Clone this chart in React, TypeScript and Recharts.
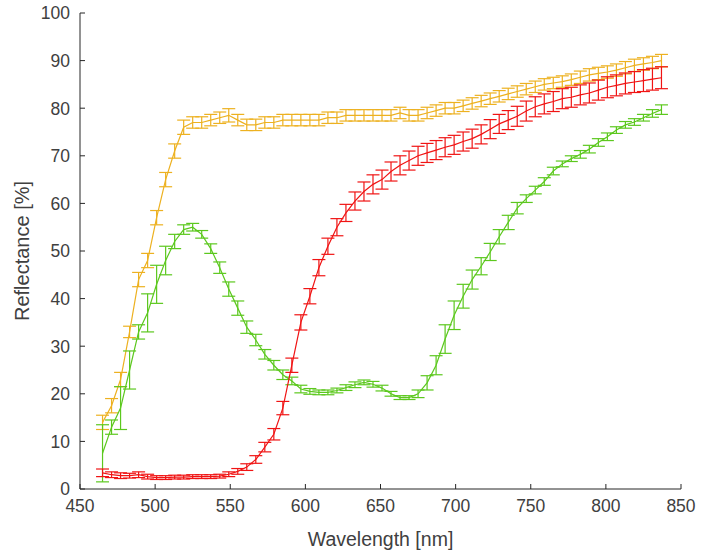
import React from 'react';
import { LineChart, Line, XAxis, YAxis, ErrorBar } from 'recharts';

// wavelength samples [nm]
const wavelengths = [
  465, 471, 477, 483, 489, 495, 501, 507, 513, 519,
  525, 531, 537, 543, 549, 555, 561, 567, 573, 579,
  585, 591, 597, 603, 609, 615, 621, 627, 633, 639,
  645, 651, 657, 663, 669, 675, 681, 687, 693, 699,
  705, 711, 717, 723, 729, 735, 741, 747, 753, 759,
  765, 771, 777, 783, 789, 795, 801, 807, 813, 819,
  825, 831, 837,
];

// reflectance [%]
const orangeVals = [
  14, 17.5, 23, 33, 44, 48, 57, 65, 71, 76,
  77, 77, 77.5, 78, 78.5, 77.5, 76.5, 76.5, 77, 77,
  77.5, 77.5, 77.5, 77.5, 77.5, 78, 78, 78.5, 78.5, 78.5,
  78.5, 78.5, 78.5, 79, 78.5, 78.5, 79, 79.5, 80, 80,
  80.5, 81, 81.5, 82, 82.5, 83, 83.5, 84, 84.5, 85,
  85.3, 85.6, 86, 86.5, 87, 87.3, 87.6, 88, 88.5, 89,
  89.3, 89.6, 90,
];
const orangeErr = [
  1.5, 1.5, 1.5, 1.2, 1.5, 1.5, 1.5, 1.5, 1.5, 1.5,
  1.2, 1.2, 1.2, 1.2, 1.4, 1.2, 1.2, 1.2, 1.2, 1.2,
  1.2, 1.2, 1.2, 1.2, 1.2, 1.2, 1.2, 1.2, 1.2, 1.2,
  1.2, 1.2, 1.2, 1.2, 1.2, 1.2, 1.2, 1.2, 1.2, 1.2,
  1.2, 1.2, 1.2, 1.2, 1.2, 1.2, 1.2, 1.2, 1.2, 1.2,
  1.2, 1.2, 1.2, 1.3, 1.3, 1.3, 1.3, 1.3, 1.3, 1.3,
  1.3, 1.3, 1.3,
];

const redVals = [
  3.4, 3.0, 2.8, 2.8, 3.0, 2.6, 2.4, 2.4, 2.5, 2.5,
  2.6, 2.6, 2.6, 2.7, 3.1, 3.7, 4.6, 6.2, 8.8, 11.5,
  17, 26, 35, 40.5, 46.5, 51, 55, 58, 60.5, 62.5,
  64, 65, 66.7, 68, 69, 70, 70.6, 71.2, 71.8, 72.3,
  73, 73.6, 74.5, 75.6, 76.7, 77.5, 78.3, 79.4, 80.3, 80.9,
  81.4, 82, 82.3, 82.8, 83.2, 83.8, 84.4, 84.8, 85.2, 85.5,
  85.8, 86.1, 86.4,
];
const redErr = [
  0.8, 0.6, 0.6, 0.5, 0.6, 0.5, 0.4, 0.4, 0.4, 0.4,
  0.4, 0.4, 0.4, 0.4, 0.5, 0.6, 0.7, 0.8, 1.0, 1.2,
  1.4, 1.5, 1.6, 1.6, 1.7, 1.7, 1.8, 1.8, 1.9, 2.0,
  2.0, 2.0, 2.0, 2.0, 2.0, 2.0, 2.0, 2.0, 2.0, 2.0,
  2.0, 2.0, 2.0, 2.0, 2.0, 2.0, 2.1, 2.1, 2.1, 2.1,
  2.1, 2.1, 2.1, 2.1, 2.1, 2.1, 2.2, 2.2, 2.2, 2.2,
  2.3, 2.3, 2.3,
];

const greenVals = [
  7.5, 13, 17, 25, 33, 37, 43, 48, 52, 54.5,
  55, 53.5, 50.5, 46.5, 42, 38, 34, 31.3, 28.3, 26,
  24, 22.7, 21, 20.5, 20.3, 20.3, 20.7, 21.3, 21.9, 22.4,
  22, 21.2, 20, 19.2, 19.2, 20, 22.3, 26, 31.5, 36.5,
  40.5, 44, 46.8, 49.8, 53, 56, 59, 61, 62.8, 64.6,
  66.8, 68.3, 69.4, 70.3, 71.4, 72.8, 74, 75.4, 76.5, 77.1,
  78, 78.9, 79.7,
];
const greenErr = [
  6, 1.5, 4.5, 4, 1.5, 4, 4, 3, 1.5, 1,
  0.8, 0.8, 1, 1.2, 1.5, 1.5, 1.3, 1.2, 1, 1,
  1, 0.8, 0.8, 0.6, 0.5, 0.5, 0.5, 0.6, 0.6, 0.5,
  0.6, 0.6, 0.5, 0.4, 0.4, 0.8, 1.5, 2, 3, 3,
  2.5, 2, 1.8, 1.8, 1.5, 1.5, 1.2, 0.8, 0.8, 0.8,
  0.8, 0.6, 0.6, 0.8, 0.8, 0.8, 0.8, 0.7, 0.7, 0.7,
  0.7, 0.8, 1.0,
];

const xTicks = [450, 500, 550, 600, 650, 700, 750, 800, 850];
const yTicks = [0, 10, 20, 30, 40, 50, 60, 70, 80, 90, 100];

const data = wavelengths.map((nm, i) => ({
  nm,
  orange: orangeVals[i],
  orangeErr: orangeErr[i],
  red: redVals[i],
  redErr: redErr[i],
  green: greenVals[i],
  greenErr: greenErr[i],
}));

const FONT = "'Liberation Sans', Arial, Helvetica, sans-serif";
const TEXT = '#404040';
const AXIS = '#262626';
const TICK_LEN = 5;
const X_GAP = 10;
const Y_GAP = 10;

const ORANGE = '#EDB120';
const RED = '#F01414';
const GREEN = '#5CC81E';

// MATLAB style: tick marks point into the plot
const XTick = (props: any) => {
  const { x, y, payload } = props;
  return (
    <g>
      <line x1={x} x2={x} y1={y - X_GAP} y2={y - X_GAP - TICK_LEN} stroke={AXIS} strokeWidth={1} />
      <text x={x} y={y} dy="0.75em" textAnchor="middle" fill={TEXT} fontSize={17.5} fontFamily={FONT}>
        {payload.value}
      </text>
    </g>
  );
};

const YTick = (props: any) => {
  const { x, y, payload } = props;
  return (
    <g>
      <line x1={x + Y_GAP} x2={x + Y_GAP + TICK_LEN} y1={y} y2={y} stroke={AXIS} strokeWidth={1} />
      <text x={x} y={y} dy="0.36em" textAnchor="end" fill={TEXT} fontSize={17.5} fontFamily={FONT}>
        {payload.value}
      </text>
    </g>
  );
};

const XTitle = (props: any) => {
  const vb = props.viewBox || { x: 80, y: 489, width: 601, height: 64 };
  return (
    <text
      x={vb.x + vb.width / 2}
      y={vb.y + vb.height - 7}
      textAnchor="middle"
      fill={TEXT}
      fontSize={19.5}
      fontFamily={FONT}
    >
      Wavelength [nm]
    </text>
  );
};

const YTitle = (props: any) => {
  const vb = props.viewBox || { x: 0, y: 13, width: 80, height: 476 };
  const cx = 22;
  const cy = vb.y + vb.height / 2;
  return (
    <text
      x={cx}
      y={cy}
      transform={`rotate(-90, ${cx}, ${cy})`}
      textAnchor="middle"
      dominantBaseline="central"
      fill={TEXT}
      fontSize={20}
      fontFamily={FONT}
    >
      Reflectance [%]
    </text>
  );
};

export default function App() {
  return (
    <div style={{ position: 'absolute', left: 0, top: 0, background: '#fff' }}>
      <LineChart width={714} height={553} data={data} margin={{ top: 13, right: 33, bottom: 0, left: 0 }}>
        <XAxis
          dataKey="nm"
          type="number"
          domain={[450, 850]}
          ticks={xTicks}
          height={64}
          tickSize={0}
          tickMargin={X_GAP}
          tickLine={false}
          tick={<XTick />}
          axisLine={{ stroke: AXIS, strokeWidth: 1 }}
          label={XTitle}
        />
        <YAxis
          type="number"
          domain={[0, 100]}
          ticks={yTicks}
          width={80}
          tickSize={0}
          tickMargin={Y_GAP}
          tickLine={false}
          tick={<YTick />}
          axisLine={{ stroke: AXIS, strokeWidth: 1 }}
          label={YTitle}
        />
        <Line dataKey="orange" type="linear" stroke={ORANGE} strokeWidth={1.2} dot={false} isAnimationActive={false}>
          <ErrorBar dataKey="orangeErr" direction="y" width={6.5} stroke={ORANGE} strokeWidth={1.2} isAnimationActive={false} />
        </Line>
        <Line dataKey="green" type="linear" stroke={GREEN} strokeWidth={1.2} dot={false} isAnimationActive={false}>
          <ErrorBar dataKey="greenErr" direction="y" width={6.5} stroke={GREEN} strokeWidth={1.2} isAnimationActive={false} />
        </Line>
        <Line dataKey="red" type="linear" stroke={RED} strokeWidth={1.2} dot={false} isAnimationActive={false}>
          <ErrorBar dataKey="redErr" direction="y" width={6.5} stroke={RED} strokeWidth={1.2} isAnimationActive={false} />
        </Line>
      </LineChart>
    </div>
  );
}
